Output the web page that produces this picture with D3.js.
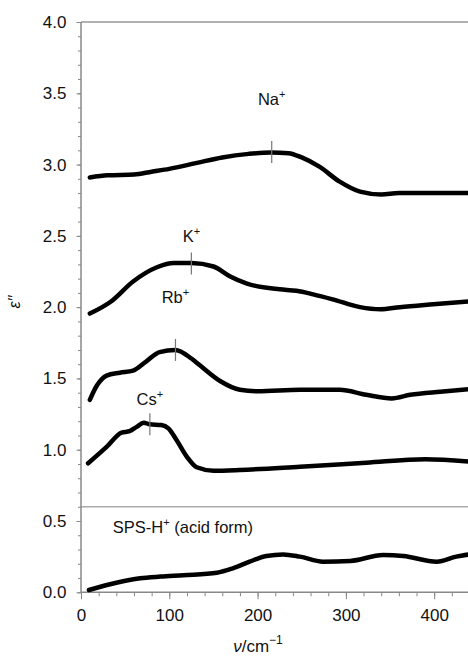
<!DOCTYPE html>
<html>
<head>
<meta charset="utf-8">
<script src="https://cdn.jsdelivr.net/npm/d3@7"></script>
<style>
  body { margin: 0; background: #fff; }
  svg { display: block; font-family: "Liberation Sans", Arial, sans-serif; }
  .curve { fill: none; stroke: #000; stroke-width: 4.5; stroke-linejoin: round; stroke-linecap: round; }
  .axis path, .axis line { stroke: #888; }
  .axis text { fill: #111; font-size: 17px; font-family: "Liberation Sans", Arial, sans-serif; }
</style>
</head>
<body>
<svg width="468" height="657"></svg>
<script>
// wavenumber (cm^-1) / eps'' pairs
const naX = [10, 30, 60, 80, 100, 130, 160, 190, 215, 235, 250, 270, 293, 316, 340, 360, 400, 440];
const naY = [2.91, 2.925, 2.93, 2.95, 2.97, 3.01, 3.05, 3.075, 3.085, 3.08, 3.05, 2.985, 2.88, 2.81, 2.79, 2.80, 2.80, 2.80];

const kX = [10, 34, 59, 86, 105, 125, 150, 169, 188, 225, 244, 263, 285, 316, 339, 361, 399, 440];
const kY = [1.955, 2.04, 2.18, 2.28, 2.31, 2.31, 2.285, 2.215, 2.165, 2.125, 2.115, 2.09, 2.055, 2.00, 1.985, 2.00, 2.02, 2.04];

const rbX = [10, 18, 29, 44, 59, 74, 89, 107, 125, 135, 158, 180, 200, 248, 293, 323, 352, 373, 407, 440];
const rbY = [1.35, 1.45, 1.52, 1.54, 1.555, 1.62, 1.685, 1.70, 1.64, 1.59, 1.48, 1.42, 1.41, 1.42, 1.42, 1.385, 1.36, 1.385, 1.407, 1.425];

const csX = [8, 29, 46, 55, 63, 71, 78, 91, 99, 108, 120, 131, 150, 180, 248, 323, 390, 440];
const csY = [0.905, 1.02, 1.12, 1.13, 1.16, 1.19, 1.178, 1.173, 1.15, 1.07, 0.95, 0.877, 0.853, 0.858, 0.881, 0.909, 0.933, 0.916];

const spsX = [9, 40, 67, 90, 116, 154, 172, 191, 210, 229, 248, 274, 305, 342, 365, 403, 425, 440];
const spsY = [0.016, 0.067, 0.098, 0.11, 0.12, 0.137, 0.168, 0.215, 0.255, 0.266, 0.25, 0.215, 0.22, 0.262, 0.255, 0.215, 0.25, 0.266];

// peak markers: ion, peak position, curve value there, label baseline value
const ions = ['Na', 'K', 'Rb', 'Cs'];
const peakX = [216, 125, 107, 78];
const peakY = [3.088, 2.307, 1.70, 1.178];
const labelY = [3.42, 2.457, 2.03, 1.313];

const majorY = [0, 0.5, 1, 1.5, 2, 2.5, 3, 3.5, 4];
const majorX = [0, 100, 200, 300, 400];
const splitY = 0.6;

const svg = d3.select('svg');

const x = d3.scaleLinear().domain([0, 440]).range([81, 469.5]);
const y = d3.scaleLinear().domain([0, 4]).range([592.3, 22]);

// frame
svg.append('line')
    .attr('x1', x(0)).attr('x2', 468)
    .attr('y1', y(4)).attr('y2', y(4))
    .attr('stroke', '#666').attr('stroke-width', 1.2);
svg.append('line')
    .attr('x1', x(0)).attr('x2', 468)
    .attr('y1', y(splitY)).attr('y2', y(splitY))
    .attr('stroke', '#aaa').attr('stroke-width', 1.5);

// y axis: minor then major
svg.append('g')
    .attr('class', 'axis')
    .attr('transform', `translate(${x(0)},0)`)
    .call(d3.axisLeft(y).ticks(40).tickSize(3).tickFormat(''))
    .call(g => g.select('.domain').remove());
svg.append('g')
    .attr('class', 'axis')
    .attr('transform', `translate(${x(0)},0)`)
    .call(d3.axisLeft(y).tickValues(majorY).tickSize(4.5).tickPadding(10).tickFormat(d3.format('.1f')))
    .call(g => g.select('.domain').attr('stroke-width', 1.5).attr('d', `M0,${y(4)}V${y(0)}`));

// x axis
svg.append('g')
    .attr('class', 'axis')
    .attr('transform', `translate(0,${y(0)})`)
    .call(d3.axisBottom(x).ticks(22).tickSize(4).tickFormat(''))
    .call(g => g.select('.domain').remove());
svg.append('g')
    .attr('class', 'axis')
    .attr('transform', `translate(0,${y(0)})`)
    .call(d3.axisBottom(x).tickValues(majorX).tickSize(7).tickPadding(10))
    .call(g => g.select('.domain').attr('stroke-width', 1.5).attr('d', `M${x(0)},0H468`));

// curves
const line = d3.line()
    .x(d => x(d[0]))
    .y(d => y(d[1]))
    .curve(d3.curveMonotoneX);

[[naX, naY], [kX, kY], [rbX, rbY], [csX, csY], [spsX, spsY]].forEach(([xs, ys]) => {
  svg.append('path')
      .attr('class', 'curve')
      .attr('d', line(xs.map((v, i) => [v, ys[i]])));
});

// peak markers and labels
ions.forEach((ion, i) => {
  svg.append('line')
      .attr('x1', x(peakX[i])).attr('x2', x(peakX[i]))
      .attr('y1', y(peakY[i]) - 11).attr('y2', y(peakY[i]) + 11)
      .attr('stroke', '#777').attr('stroke-width', 1.2);
  const t = svg.append('text')
      .attr('x', x(peakX[i]))
      .attr('y', y(labelY[i]))
      .attr('text-anchor', 'middle')
      .attr('font-size', 16.5)
      .attr('fill', '#111');
  t.append('tspan').text(ion);
  t.append('tspan').attr('dy', -7).attr('font-size', 11).text('+');
});

const sps = svg.append('text')
    .attr('x', x(36)).attr('y', y(0.416))
    .attr('font-size', 16.5).attr('fill', '#111');
sps.append('tspan').text('SPS-H');
sps.append('tspan').attr('dy', -7).attr('font-size', 11).text('+');
sps.append('tspan').attr('dy', 7).text(' (acid form)');

// axis titles
svg.append('text')
    .attr('transform', 'translate(20,302) rotate(-90)')
    .attr('text-anchor', 'middle')
    .attr('font-size', 16).attr('font-style', 'italic').attr('fill', '#111')
    .text('ε′′');

const xt = svg.append('text')
    .attr('x', 258).attr('y', 652)
    .attr('text-anchor', 'middle')
    .attr('font-size', 17).attr('fill', '#111');
xt.append('tspan').attr('font-style', 'italic').text('ν');
xt.append('tspan').text('/cm');
xt.append('tspan').attr('dy', -8).attr('font-size', 12).text('−1');
</script>
</body>
</html>
